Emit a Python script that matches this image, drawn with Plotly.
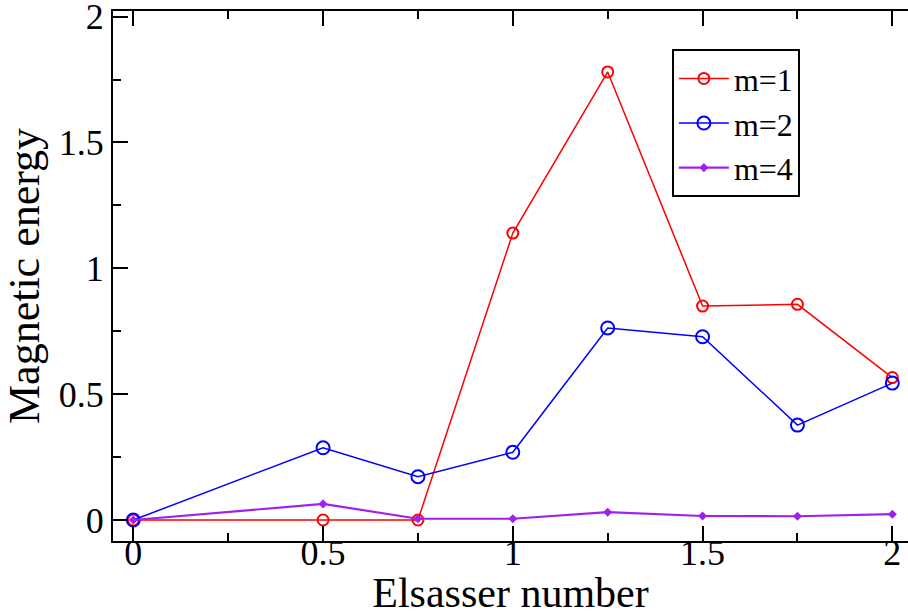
import plotly.graph_objects as go

elsasser = [0, 0.5, 0.75, 1.0, 1.25, 1.5, 1.75, 2.0]
m1 = [0.0, 0.0, 0.0, 1.14, 1.78, 0.85, 0.857, 0.566]
m2 = [0.0, 0.287, 0.172, 0.269, 0.763, 0.728, 0.377, 0.544]
m4 = [0.0, 0.064, 0.005, 0.005, 0.031, 0.016, 0.015, 0.023]

x_ticks = [0, 0.5, 1, 1.5, 2]
x_ticklabels = ["0", "0.5", "1", "1.5", "2"]
y_ticks = [0, 0.5, 1, 1.5, 2]
y_ticklabels = ["0", "0.5", "1", "1.5", "2"]

FONT = "Liberation Serif, Times New Roman, serif"
RED = "#ff0000"
BLUE = "#0000ff"
PURPLE = "#a020f0"
X_RANGE = [-0.0535, 2.0413]
Y_RANGE = [-0.0834, 2.0222]

fig = go.Figure()
fig.add_trace(go.Scatter(x=elsasser, y=m1, mode="lines+markers", name="m=1",
                         line=dict(color=RED, width=1.5),
                         marker=dict(symbol="circle-open", size=11, color=RED,
                                     line=dict(width=2, color=RED))))
fig.add_trace(go.Scatter(x=elsasser, y=m2, mode="lines+markers", name="m=2",
                         line=dict(color=BLUE, width=1.5),
                         marker=dict(symbol="circle-open", size=13, color=BLUE,
                                     line=dict(width=2, color=BLUE))))
fig.add_trace(go.Scatter(x=elsasser, y=m4, mode="lines+markers", name="m=4",
                         line=dict(color=PURPLE, width=2.2),
                         marker=dict(symbol="diamond", size=7, color=PURPLE)))
# invisible trace that registers the label-carrier x axis
fig.add_trace(go.Scatter(x=elsasser, y=m4, xaxis="x2", yaxis="y", mode="none",
                         showlegend=False, hoverinfo="skip"))

minor = dict(dtick=0.25, tick0=0, ticks="inside", ticklen=8,
             tickwidth=2, tickcolor="black", showgrid=False)

fig.update_layout(
    width=908, height=616,
    margin=dict(l=113, r=0, t=11, b=75),
    paper_bgcolor="white", plot_bgcolor="white",
    font=dict(family=FONT, color="black", size=36),
    showlegend=True,
    legend=dict(x=0.703, y=0.928, xanchor="left", yanchor="top",
                bordercolor="black", borderwidth=2, bgcolor="white",
                font=dict(family=FONT, size=32, color="black"),
                itemwidth=50, tracegroupgap=0),
    xaxis=dict(range=X_RANGE, tickmode="array", tickvals=x_ticks,
               ticks="inside", ticklen=15, tickwidth=2, showticklabels=False,
               tickcolor="black", showline=True, linecolor="black", linewidth=2,
               mirror="ticks", showgrid=False, zeroline=False,
               automargin=False, minor=minor,
               title=dict(text="Elsasser number", font=dict(family=FONT, size=42),
                          standoff=60)),
    # carrier axis for the x tick labels, sitting slightly above the frame
    xaxis2=dict(overlaying="x", matches="x", range=X_RANGE, anchor="free",
                position=0.025, side="bottom", tickmode="array",
                tickvals=x_ticks, ticktext=x_ticklabels, ticks="",
                showline=False, showgrid=False, zeroline=False,
                tickfont=dict(family=FONT, size=36),
                ticklabeloverflow="allow", automargin=False),
    yaxis=dict(range=Y_RANGE, tickmode="array", tickvals=y_ticks,
               ticktext=y_ticklabels, ticks="inside", ticklen=15, tickwidth=2,
               tickcolor="black", showline=True, linecolor="black", linewidth=2,
               mirror=False, showgrid=False, zeroline=False,
               tickfont=dict(family=FONT, size=36),
               ticklabeloverflow="allow", automargin=False,
               minor=minor,
               title=dict(text="Magnetic energy", font=dict(family=FONT, size=44),
                          standoff=10)),
    yaxis2=dict(overlaying="y", side="right", matches="y", range=Y_RANGE,
                tickmode="array", tickvals=y_ticks, ticks="inside", ticklen=15,
                tickwidth=2, tickcolor="black", showticklabels=False,
                showline=False, showgrid=False, zeroline=False, minor=minor),
)

fig.write_html("out.html", config={"displayModeBar": False},
               post_script="document.body.style.margin='0';")
